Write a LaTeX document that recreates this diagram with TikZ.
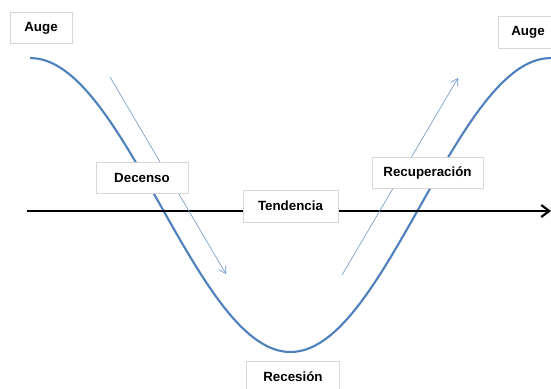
\documentclass[tikz,border=0pt]{standalone}
\usepackage{fontspec}
\setmainfont{Liberation Sans}
\usetikzlibrary{arrows.meta}
\definecolor{cycleblue}{RGB}{79,129,189}
\definecolor{boxgray}{RGB}{215,215,215}

\begin{document}
\begin{tikzpicture}[x=0.75pt,y=-0.75pt,
    fase/.style={draw=boxgray,fill=white,line width=0.5pt,font=\fontsize{10}{12}\selectfont\bfseries,
      inner sep=0pt,minimum height=23pt},
    guia/.style={cycleblue!85,line width=0.45pt,-{Straight Barb[length=5pt,width=6pt]}}]
    \useasboundingbox (0,0) rectangle (551,389);
    % ciclo
    \draw[cycleblue,line width=1.6pt,line join=round] plot[domain=30:551,samples=60,smooth]
      (\x,{205-147*cos(0.69098*(\x-30))});
    % eje de tendencia
    \coordinate (ejeA) at (27,211);
    \coordinate (ejeB) at (551,211);
    \draw[black,line width=1.6pt,-{Straight Barb[length=6pt,width=9pt]}] (ejeA)--(ejeB);
    % flechas de fase
    \coordinate (bajaA) at (110,77);
    \coordinate (bajaB) at (226,274);
    \coordinate (subeA) at (342,275);
    \coordinate (subeB) at (458,78);
    \draw[guia] (bajaA)--(bajaB);
    \draw[guia] (subeA)--(subeB);
    % etiquetas
    \node[fase,minimum width=46.5pt] (auge1) at (41,28){Auge};
    \node[fase,minimum width=45pt,minimum height=24pt] (auge2) at (528,32){Auge};
    \node[fase,minimum width=69pt] (decenso) at (142,177.5){Decenso};
    \node[fase,minimum width=71pt,minimum height=24pt] (tendencia) at (290.5,206){Tendencia};
    \node[fase,minimum width=83pt] (recuperacion) at (427.5,173){Recuperación};
    \node[fase,minimum width=70pt] (recesion) at (293,377){Recesión};
  \end{tikzpicture}
\end{document}
